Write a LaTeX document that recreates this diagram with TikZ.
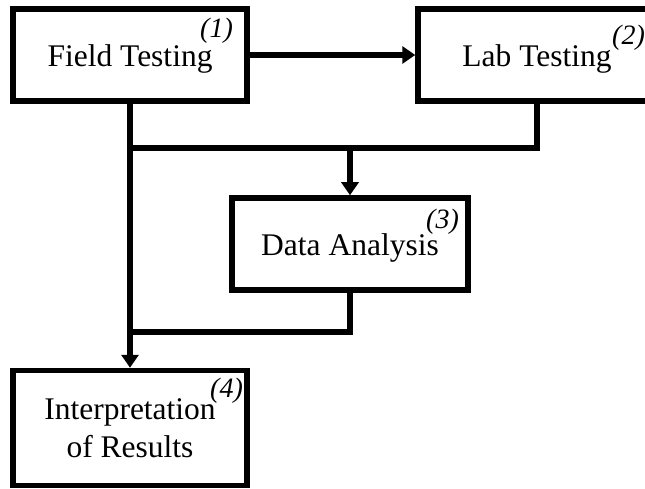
\documentclass[tikz,border=0pt]{standalone}
\usepackage{fontspec}
\setmainfont{Liberation Serif}
\usetikzlibrary{arrows.meta}

\tikzset{
  conn/.style={line width=5.5pt, line join=miter},
  flow/.style={conn, -{Triangle[length=13pt,width=17pt]}},
  stage/.style={draw, line width=5.5pt, rectangle, inner sep=0pt,
    font=\fontsize{31.5}{38}\selectfont, align=center},
  oneline/.style={text height=23pt, text depth=0pt},
  tag/.style={inner sep=0pt, anchor=base west,
    font=\fontsize{28}{28}\selectfont\itshape}
}

\begin{document}
\begin{tikzpicture}[x=1pt, y=-1pt]
  \useasboundingbox (0,0) rectangle (645,489);

  % stages
  \node[stage, oneline, minimum width=234pt, minimum height=92pt] (b1) at (130,55) {Field Testing};
  \node[stage, oneline, minimum width=238pt, minimum height=92pt] (b2) at (537,55) {Lab Testing};
  \node[stage, oneline, minimum width=236pt, minimum height=92pt] (b3) at (350,244) {Data Analysis};
  \node[stage, minimum width=234pt, minimum height=115pt] (b4) at (130,428) {Interpretation\\of Results};

  % stage numbers
  \node[tag] (s1) at (200,38) {(1)};
  \node[tag] (s2) at (612,45) {(2)};
  \node[tag] (s3) at (426,229) {(3)};
  \node[tag] (s4) at (210,397) {(4)};

  % junctions on the main trunk
  \coordinate (j1) at (130,148);
  \coordinate (j2) at (130,332);

  % connectors
  \draw[flow] (b1.east) -- (b2.west);
  \draw[flow] (b1.south) -- (b4.north);
  \draw[conn] (b2.south) |- (j1);
  \draw[flow] (b3.north |- j1) -- (b3.north);
  \draw[conn] (b3.south) |- (j2);
\end{tikzpicture}
\end{document}
